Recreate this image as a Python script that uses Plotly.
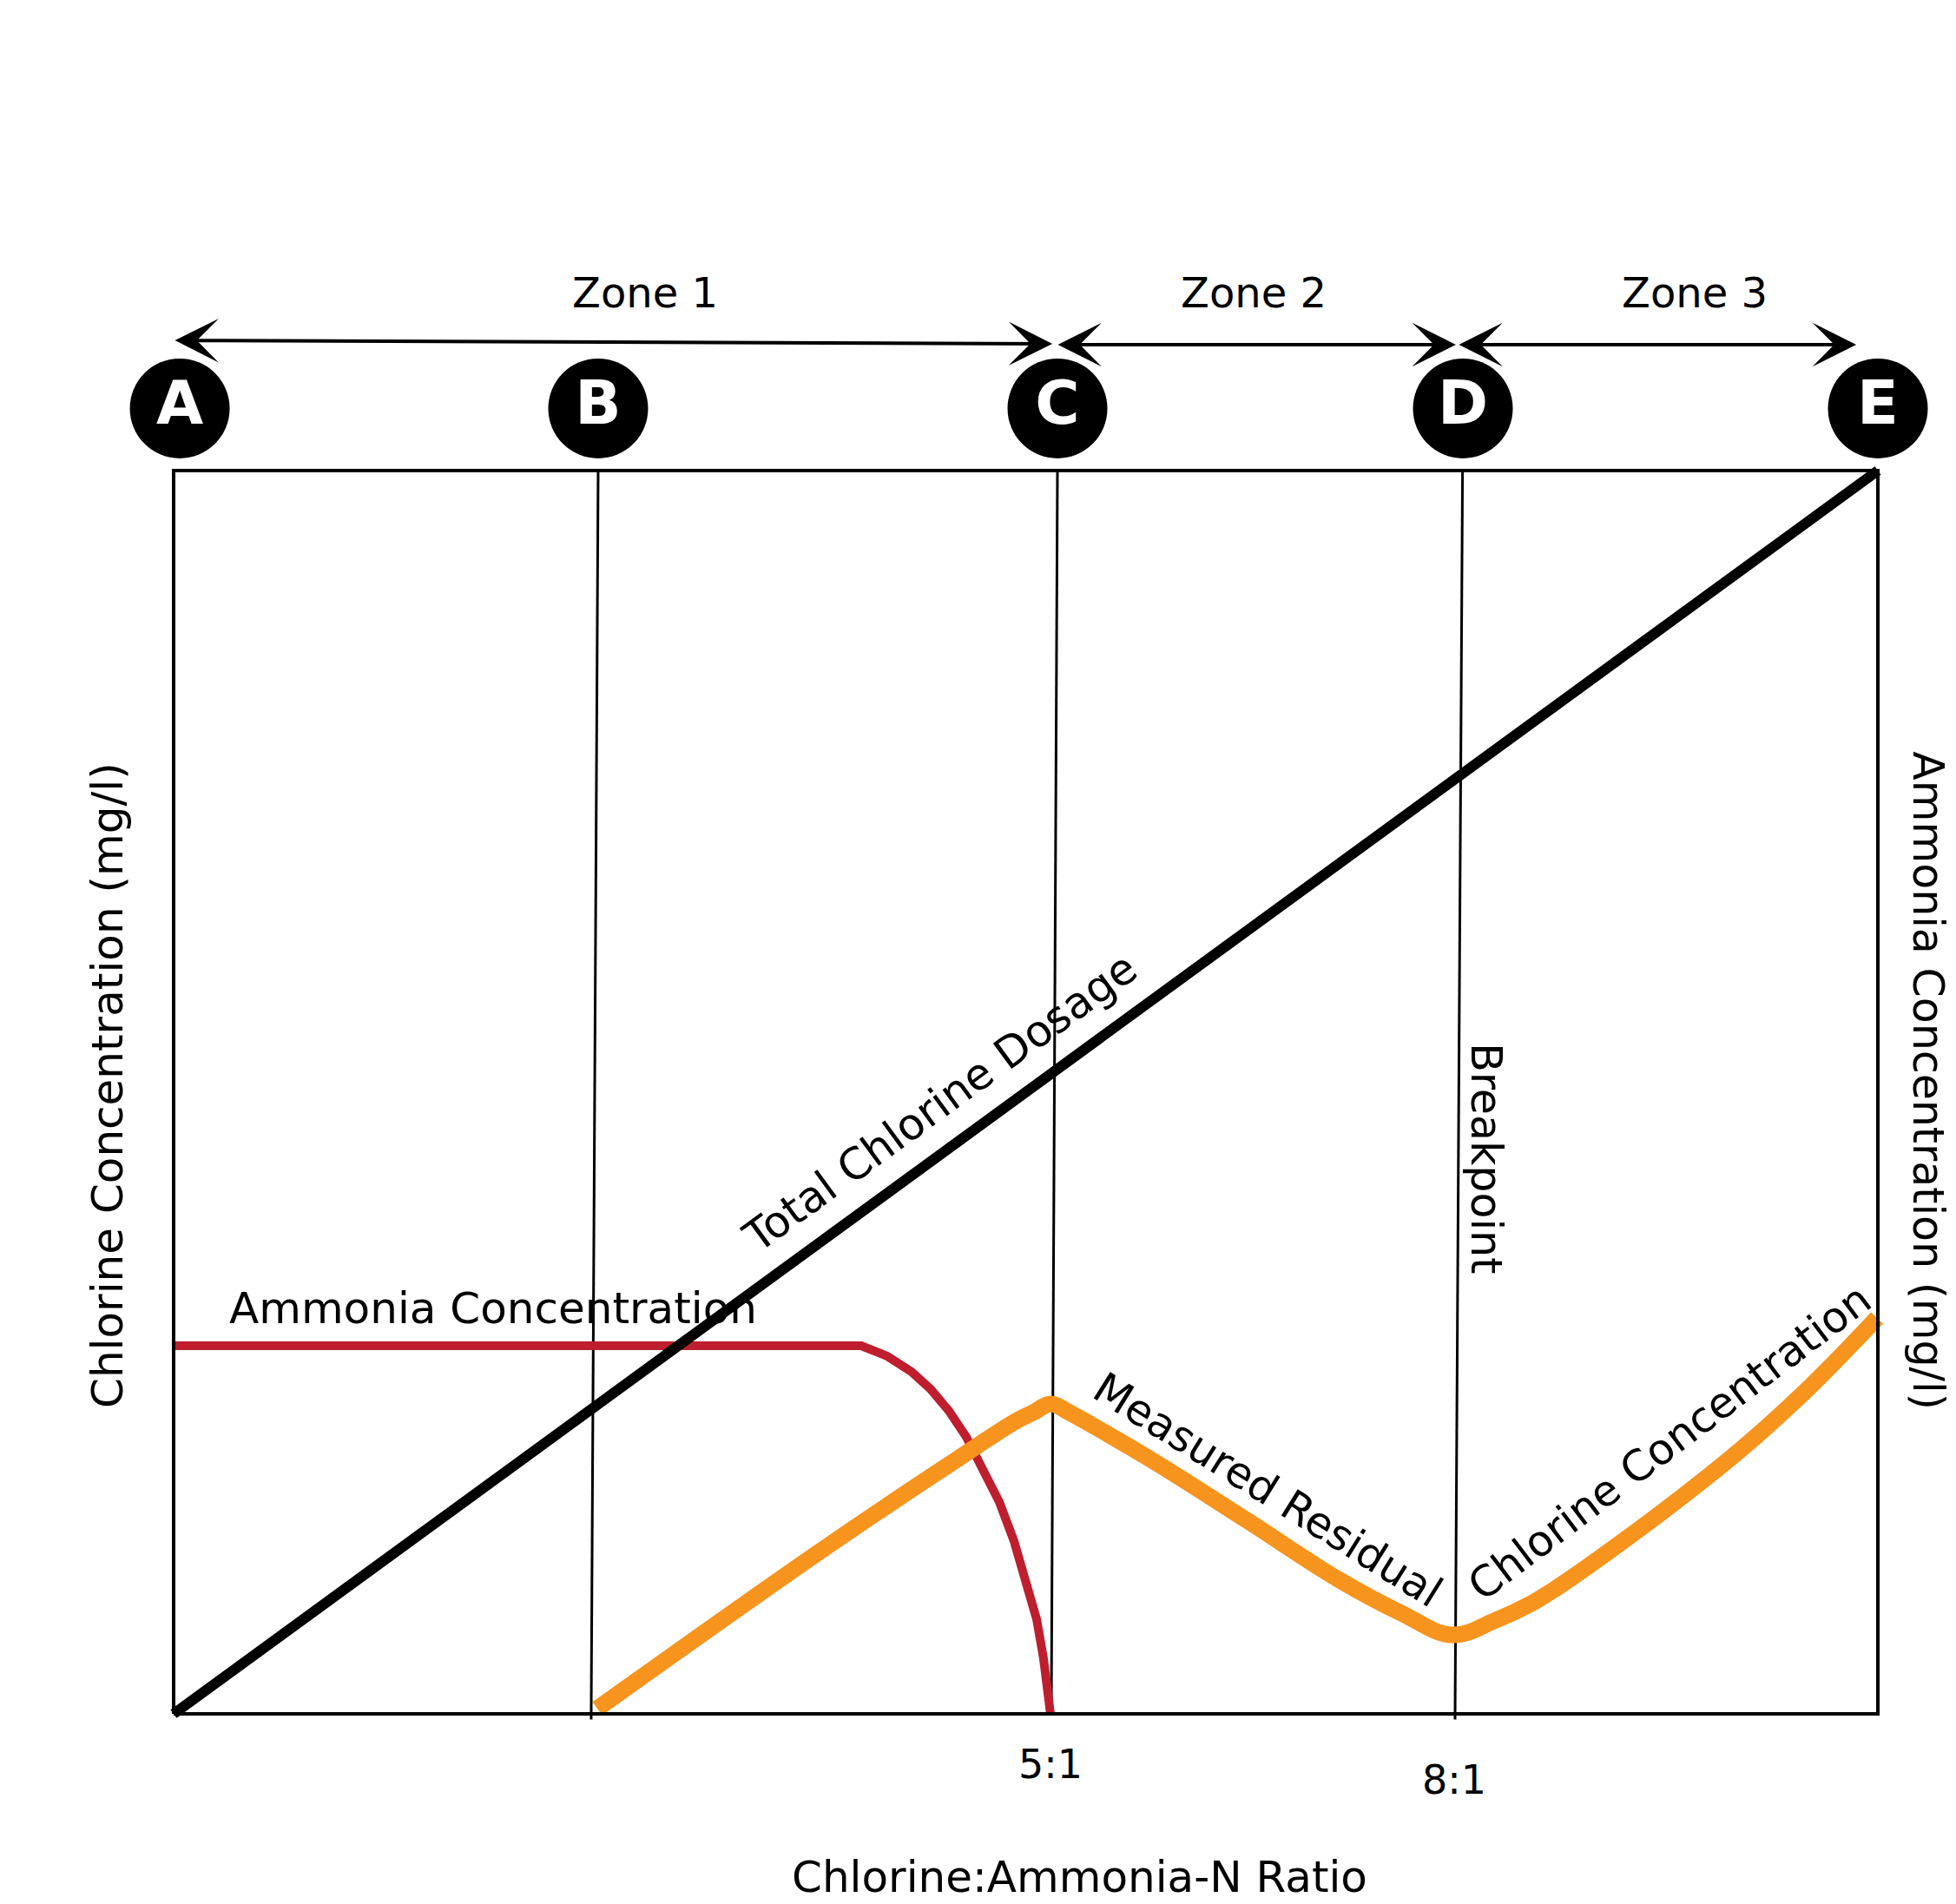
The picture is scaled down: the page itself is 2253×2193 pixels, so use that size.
import plotly.graph_objects as go

# ---------------- data (x: 0-100 across the chart box, y: 0-100 chlorine scale) ----------------
dosage_x = [0, 100]
dosage_y = [0, 100]

ammonia_x = [0, 40.35, 41.87, 43.30, 44.42, 45.49, 46.51, 47.48, 48.45, 49.31, 50.03, 50.64, 51.04, 51.30, 51.45]
ammonia_y = [29.61, 29.61, 28.77, 27.51, 26.12, 24.37, 22.28, 19.83, 17.04, 13.90, 10.75, 7.61, 4.47, 2.03, 0.0]

residual_x = [24.86, 38.51, 45.80, 49.41, 50.43, 51.48, 52.47, 53.85, 57.51, 62.97, 68.42, 72.03, 75.04,
              77.48, 79.57, 81.15, 84.77, 88.44, 92.05, 95.72, 99.95]
residual_y = [0.42, 13.62, 20.32, 23.53, 24.23, 24.93, 24.30, 23.25, 20.32, 15.57, 10.75, 8.10, 6.35,
              7.47, 8.80, 10.13, 13.62, 17.39, 21.37, 25.91, 31.84]

# chart box
box_x = [0, 100, 100, 0, 0]
box_y = [0, 0, 100, 100, 0]

# zone divider lines (top x, bottom x, bottom y)
divider_top_x = [24.91, 51.86, 75.63]
divider_bot_x = [24.50, 51.50, 75.19]
divider_bot_y = [-0.45, 0.0, -0.45]

# point markers above the chart
point_labels = ["A", "B", "C", "D", "E"]
point_x = [0.36, 24.91, 51.86, 75.65, 100.0]
point_y = [105.0] * 5

zone_labels = ["Zone 1", "Zone 2", "Zone 3"]
zone_label_x = [27.66, 63.37, 89.25]
zone_label_y = 114.3
zone_arrow_start = [(0.0, 110.47), (51.81, 110.13), (75.34, 110.13)]
zone_arrow_end = [(51.56, 110.2), (75.24, 110.13), (98.73, 110.13)]

ratio_labels = ["5:1", "8:1"]
ratio_x = [51.45, 75.14]
ratio_y = [-4.05, -5.31]

FONT = "DejaVu Sans"

fig = go.Figure()

# divider lines
for xt, xb, yb in zip(divider_top_x, divider_bot_x, divider_bot_y):
    fig.add_trace(go.Scatter(x=[xt, xb], y=[100, yb], mode="lines",
                             line=dict(color="black", width=3), hoverinfo="skip", showlegend=False))

# ammonia
fig.add_trace(go.Scatter(x=ammonia_x, y=ammonia_y, mode="lines",
                         line=dict(color="#BE1E2D", width=10, shape="linear"),
                         showlegend=False))
# residual chlorine
fig.add_trace(go.Scatter(x=residual_x, y=residual_y, mode="lines",
                         line=dict(color="#F7941D", width=19, shape="spline", smoothing=1.1),
                         showlegend=False))
# total chlorine dosage
fig.add_trace(go.Scatter(x=dosage_x, y=dosage_y, mode="lines",
                         line=dict(color="black", width=12), showlegend=False))
# box
fig.add_trace(go.Scatter(x=box_x, y=box_y, mode="lines",
                         line=dict(color="black", width=4), hoverinfo="skip", showlegend=False))

# point circles
fig.add_trace(go.Scatter(x=point_x, y=point_y, mode="markers+text", text=point_labels,
                         textposition="middle center",
                         textfont=dict(family=FONT, size=70, color="white", weight="bold"),
                         marker=dict(size=115, color="black", line=dict(width=0)),
                         showlegend=False, hoverinfo="skip"))

annotations = []
for lab, x in zip(zone_labels, zone_label_x):
    annotations.append(dict(x=x, y=zone_label_y, xref="x", yref="y", text=lab, showarrow=False,
                            font=dict(family=FONT, size=48, color="black")))
for (x0, y0), (x1, y1) in zip(zone_arrow_start, zone_arrow_end):
    annotations.append(dict(x=x1, y=y1, ax=x0, ay=y0, xref="x", yref="y", axref="x", ayref="y",
                            text="", showarrow=True, arrowhead=3, arrowside="end+start",
                            arrowsize=2.1, arrowwidth=4, arrowcolor="black",
                            standoff=0, startstandoff=0))
for lab, x, y in zip(ratio_labels, ratio_x, ratio_y):
    annotations.append(dict(x=x, y=y, xref="x", yref="y", text=lab, showarrow=False,
                            font=dict(family=FONT, size=46, color="black")))

annotations += [
    dict(x=53.18, y=-13.13, xref="x", yref="y", text="Chlorine:Ammonia-N Ratio", showarrow=False,
         font=dict(family=FONT, size=50, color="black")),
    dict(x=-3.87, y=50.56, xref="x", yref="y", text="Chlorine Concentration (mg/l)", showarrow=False,
         textangle=-90, font=dict(family=FONT, size=50, color="black")),
    dict(x=102.95, y=50.9, xref="x", yref="y", text="Ammonia Concentration (mg/l)", showarrow=False,
         textangle=90, font=dict(family=FONT, size=49, color="black")),
    dict(x=77.02, y=44.69, xref="x", yref="y", text="Breakpoint", showarrow=False,
         textangle=90, font=dict(family=FONT, size=49, color="black")),
    dict(x=44.98, y=49.16, xref="x", yref="y", text="Total Chlorine Dosage", showarrow=False,
         textangle=-36.1, font=dict(family=FONT, size=50, color="black")),
    dict(x=18.75, y=32.61, xref="x", yref="y", text="Ammonia Concentration", showarrow=False,
         font=dict(family=FONT, size=50, color="black")),
    dict(x=64.2, y=17.95, xref="x", yref="y", text="Measured Residual", showarrow=False,
         textangle=32, font=dict(family=FONT, size=49, color="black")),
    dict(x=87.78, y=21.85, xref="x", yref="y", text="Chlorine Concentration", showarrow=False,
         textangle=-37.2, font=dict(family=FONT, size=49, color="black")),
]

fig.update_layout(
    width=2253, height=2193,
    margin=dict(l=0, r=0, t=0, b=0),
    paper_bgcolor="white", plot_bgcolor="white",
    showlegend=False,
    annotations=annotations,
    xaxis=dict(range=[-10.188, 104.585], visible=False),
    yaxis=dict(range=[-15.293, 137.849], visible=False),
)

fig.write_html("out.html")
